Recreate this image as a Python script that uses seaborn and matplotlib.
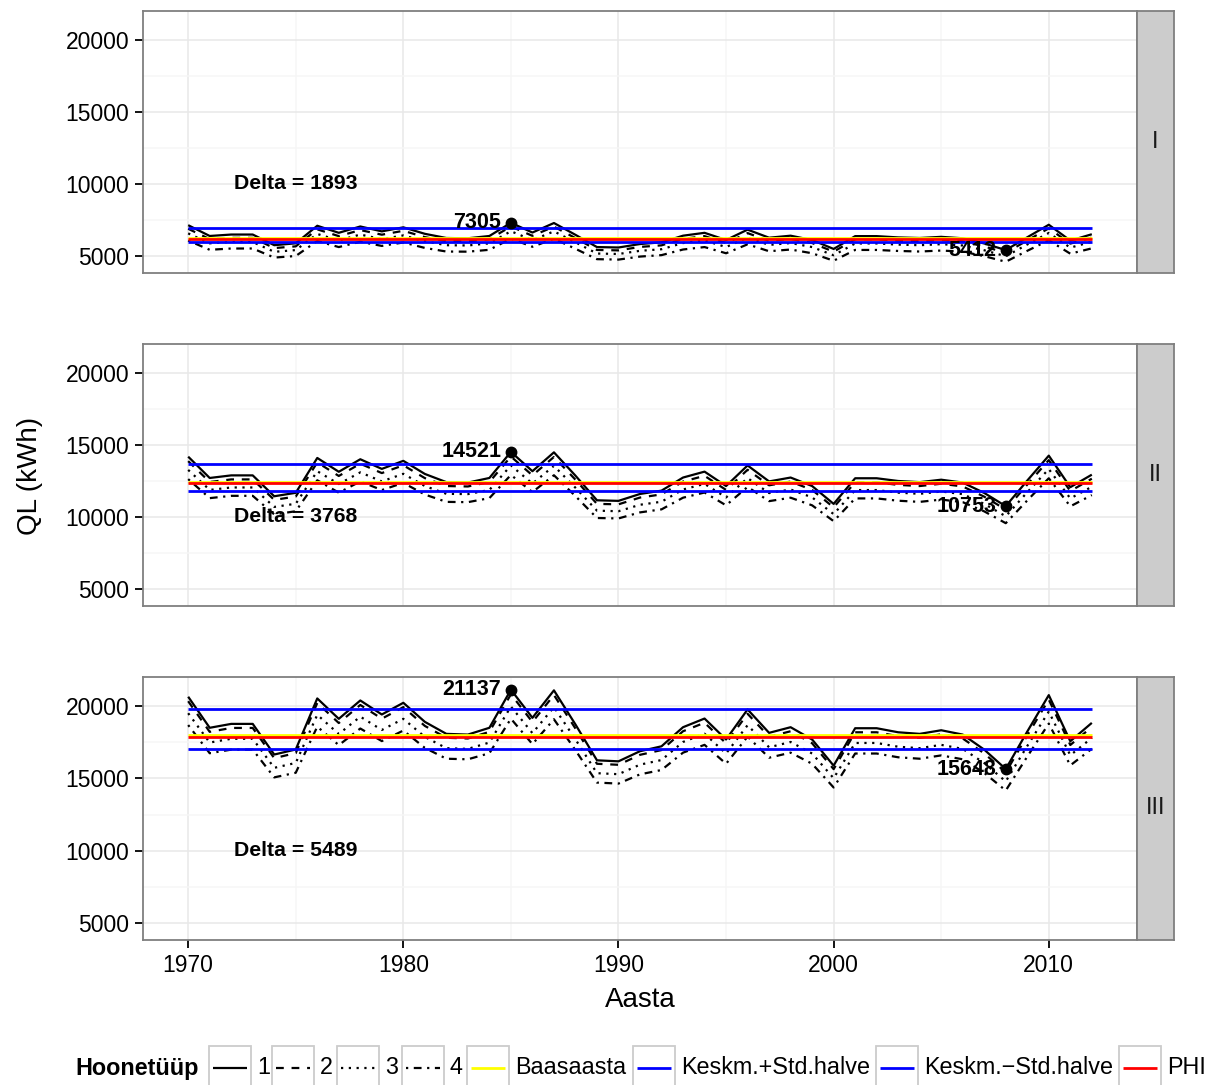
import numpy as np
import pandas as pd
import matplotlib
matplotlib.use("Agg")
import matplotlib.pyplot as plt
import seaborn as sns
from matplotlib.patches import Rectangle
from matplotlib.lines import Line2D

# ---------------- data ----------------
years = list(range(1970, 2013))
facets = ["I", "II", "III"]
types = ["1", "2", "3", "4"]

# facet I
ql_I_1 = [7140, 6390, 6490, 6490, 5750, 5880, 7100, 6610, 7050, 6710, 6990, 6540, 6250, 6230, 6390,
          7305, 6630, 7290, 6470, 5620, 5590, 5830, 5950, 6410, 6610, 6110, 6830, 6270, 6410, 6110,
          5490, 6380, 6380, 6290, 6250, 6330, 6230, 5870, 5412, 6300, 7170, 6070, 6510]
ql_I_2 = [6890, 6170, 6260, 6260, 5550, 5670, 6850, 6380, 6800, 6480, 6750, 6310, 6030, 6010, 6170,
          7050, 6400, 7040, 6240, 5420, 5390, 5630, 5740, 6190, 6380, 5900, 6590, 6050, 6190, 5900,
          5300, 6160, 6160, 6070, 6030, 6110, 6010, 5660, 5220, 6080, 6920, 5860, 6280]
ql_I_3 = [6570, 5880, 5970, 5970, 5290, 5410, 6530, 6080, 6490, 6170, 6430, 6020, 5750, 5730, 5880,
          6720, 6100, 6710, 5950, 5170, 5140, 5360, 5470, 5900, 6080, 5620, 6280, 5770, 5900, 5620,
          5050, 5870, 5870, 5790, 5750, 5820, 5730, 5400, 4980, 5800, 6600, 5580, 5990]
ql_I_4 = [6070, 5430, 5520, 5520, 4890, 5000, 6040, 5620, 5990, 5700, 5940, 5560, 5310, 5300, 5430,
          6210, 5640, 6200, 5500, 4780, 4750, 4960, 5060, 5450, 5620, 5190, 5810, 5330, 5450, 5190,
          4670, 5420, 5420, 5350, 5310, 5380, 5300, 4990, 4600, 5360, 6090, 5160, 5530]

# facet II
ql_II_1 = [14190, 12710, 12890, 12890, 11440, 11680, 14100, 13140, 14010, 13340, 13900, 12990, 12420, 12390, 12710,
           14521, 13180, 14490, 12870, 11160, 11120, 11600, 11830, 12740, 13150, 12150, 13580, 12470, 12740, 12150,
           10910, 12690, 12690, 12500, 12420, 12590, 12390, 11670, 10753, 12530, 14260, 12070, 12940]
ql_II_2 = [13880, 12430, 12610, 12610, 11190, 11420, 13790, 12850, 13700, 13050, 13590, 12700, 12150, 12120, 12430,
           14200, 12890, 14170, 12590, 10910, 10880, 11350, 11570, 12460, 12860, 11880, 13280, 12200, 12460, 11880,
           10670, 12410, 12410, 12230, 12150, 12310, 12120, 11410, 10520, 12250, 13950, 11800, 12660]
ql_II_3 = [13270, 11880, 12050, 12050, 10700, 10920, 13180, 12290, 13100, 12470, 13000, 12150, 11610, 11590, 11880,
           13580, 12320, 13550, 12030, 10440, 10400, 10850, 11060, 11910, 12300, 11360, 12700, 11660, 11910, 11360,
           10200, 11870, 11870, 11690, 11610, 11770, 11590, 10910, 10050, 11720, 13330, 11290, 12100]
ql_II_4 = [12630, 11310, 11470, 11470, 10180, 10400, 12550, 11690, 12470, 11870, 12370, 11560, 11050, 11030, 11310,
           12920, 11730, 12900, 11450, 9930, 9900, 10320, 10530, 11340, 11700, 10810, 12090, 11100, 11340, 10810,
           9710, 11290, 11290, 11130, 11050, 11210, 11030, 10390, 9570, 11150, 12690, 10740, 11520]

# facet III
ql_III_1 = [20650, 18500, 18770, 18770, 16650, 17000, 20530, 19120, 20390, 19420, 20230, 18910, 18080, 18030, 18500,
            21137, 19190, 21090, 18730, 16250, 16180, 16880, 17220, 18540, 19140, 17690, 19770, 18150, 18540, 17690,
            15880, 18470, 18470, 18190, 18080, 18330, 18030, 16990, 15648, 18240, 20760, 17570, 18840]
ql_III_2 = [20340, 18220, 18490, 18490, 16400, 16750, 20220, 18830, 20080, 19130, 19930, 18630, 17810, 17760, 18220,
            20820, 18900, 20770, 18450, 16010, 15940, 16630, 16960, 18260, 18850, 17430, 19470, 17880, 18260, 17430,
            15640, 18190, 18190, 17920, 17810, 18050, 17760, 16730, 15410, 17970, 20450, 17310, 18560]
ql_III_3 = [19510, 17480, 17740, 17740, 15730, 16070, 19400, 18070, 19270, 18350, 19120, 17870, 17090, 17040, 17480,
            19970, 18130, 19930, 17700, 15360, 15290, 15950, 16270, 17520, 18090, 16720, 18680, 17150, 17520, 16720,
            15010, 17450, 17450, 17190, 17090, 17320, 17040, 16060, 14790, 17240, 19620, 16600, 17800]
ql_III_4 = [18690, 16740, 16990, 16990, 15070, 15390, 18580, 17300, 18450, 17580, 18310, 17110, 16360, 16320, 16740,
            19130, 17370, 19090, 16950, 14710, 14640, 15280, 15580, 16780, 17320, 16010, 17890, 16430, 16780, 16010,
            14370, 16720, 16720, 16460, 16360, 16590, 16320, 15380, 14160, 16510, 18790, 15900, 17050]

# reference lines per facet (I, II, III)
baasaasta = [6250, 12450, 18030]
keskm_plus = [6920, 13680, 19810]
keskm_minus = [5970, 11800, 17060]
phi = [6160, 12340, 17870]

legend_labels = ["1", "2", "3", "4", "Baasaasta", "Keskm.+Std.halve", "Keskm.\u2212Std.halve", "PHI"]

series = {
    "I": [ql_I_1, ql_I_2, ql_I_3, ql_I_4],
    "II": [ql_II_1, ql_II_2, ql_II_3, ql_II_4],
    "III": [ql_III_1, ql_III_2, ql_III_3, ql_III_4],
}
rows = []
for f in facets:
    for t, vals in zip(types, series[f]):
        for y, v in zip(years, vals):
            rows.append((f, t, y, v))
df = pd.DataFrame(rows, columns=["Facet", "Hoonetüüp", "Aasta", "QL"])

# ---------------- style ----------------
sns.set_theme(style="white")
plt.rcParams["font.family"] = ["Liberation Sans", "DejaVu Sans"]
plt.rcParams["lines.solid_capstyle"] = "butt"
plt.rcParams["lines.dash_capstyle"] = "butt"

W, H = 1208, 1085
fig = plt.figure(figsize=(W / 100, H / 100), dpi=100)
fig.patch.set_facecolor("white")


def rect(x0, y0, x1, y1):
    return [x0 / W, 1 - y1 / H, (x1 - x0) / W, (y1 - y0) / H]


panel_y = [(11, 273), (344, 606), (677, 940)]
PX0, PX1 = 143, 1137
SX1 = 1174

LW = 1.6
REF_LW = 2.0
dash_map = {"1": "", "2": (3.5, 3.5), "3": (1, 2.5), "4": (1, 2.5, 3.5, 2.5)}
border = "#7F7F7F"

for i, f in enumerate(facets):
    y0, y1 = panel_y[i]
    ax = fig.add_axes(rect(PX0, y0, PX1, y1))
    ax.set_facecolor("white")
    sub = df[df["Facet"] == f]
    sns.lineplot(data=sub, x="Aasta", y="QL", style="Hoonetüüp", style_order=types,
                 dashes=dash_map, color="black", linewidth=LW, estimator=None,
                 legend=False, ax=ax, zorder=3)
    xmin, xmax = years[0], years[-1]
    ax.hlines(baasaasta[i], xmin, xmax, colors="#FFFF00", linewidth=REF_LW, zorder=4)
    ax.hlines(keskm_plus[i], xmin, xmax, colors="#0000FF", linewidth=REF_LW, zorder=4)
    ax.hlines(keskm_minus[i], xmin, xmax, colors="#0000FF", linewidth=REF_LW, zorder=4)
    ax.hlines(phi[i], xmin, xmax, colors="#FF0000", linewidth=REF_LW, zorder=4)

    s1 = np.array(series[f][0])
    imax, imin = int(np.argmax(s1)), int(np.argmin(s1))
    vmax, vmin = int(s1[imax]), int(s1[imin])
    ax.plot([years[imax], years[imin]], [vmax, vmin], "o", color="black", ms=7.5, zorder=6)
    for yi, v in ((imax, vmax), (imin, vmin)):
        ax.annotate(str(v), (years[yi], v), xytext=(-7, 0), textcoords="offset points",
                    ha="right", va="center", fontsize=15.5, fontweight="bold", color="black", zorder=7)
    ax.text(1975, 10000, f"Delta = {vmax - vmin}", ha="center", va="center",
            fontsize=15.3, fontweight="bold", color="black", zorder=7)

    ax.set_xlim(1967.9, 2014.1)
    ax.set_ylim(3819, 22014)
    ax.set_xticks([1970, 1980, 1990, 2000, 2010])
    ax.set_xticks([1975, 1985, 1995, 2005], minor=True)
    ax.set_yticks([5000, 10000, 15000, 20000])
    ax.set_yticks([7500, 12500, 17500], minor=True)
    ax.grid(True, which="major", color="#E8E8E8", linewidth=1.1, zorder=0)
    ax.grid(True, which="minor", color="#F6F6F6", linewidth=1.1, zorder=0)
    ax.set_axisbelow(True)
    for sp in ax.spines.values():
        sp.set_color(border)
        sp.set_linewidth(1.3)
        sp.set_visible(True)
    ax.tick_params(axis="y", which="major", left=True, length=6, width=1.3, color="black",
                   labelsize=16.5, labelcolor="black", pad=4)
    ax.tick_params(which="minor", length=0)
    if i == 2:
        ax.tick_params(axis="x", which="major", bottom=True, length=6, width=1.3, color="black",
                       labelsize=16.5, labelcolor="black", pad=4)
    else:
        ax.tick_params(axis="x", which="major", bottom=False, labelbottom=False)
    ax.set_xlabel("")
    ax.set_ylabel("")

    sax = fig.add_axes(rect(PX1, y0, SX1, y1))
    sax.set_facecolor("#CCCCCC")
    sax.set_xticks([])
    sax.set_yticks([])
    for sp in sax.spines.values():
        sp.set_color(border)
        sp.set_linewidth(1.3)
        sp.set_visible(True)
    sax.text(0.5, 0.5, f, ha="center", va="center", fontsize=17, color="#1A1A1A",
             transform=sax.transAxes)

fig.text(30 / W, 1 - 476 / H, "QL (kWh)", rotation=90, ha="center", va="center",
         fontsize=20, color="black")
fig.text(640 / W, 1 - 1000 / H, "Aasta", ha="center", va="center", fontsize=20, color="black")

# ---------------- legend (manual, ggplot-like keys) ----------------
ly = 1068
fig.text(75 / W, 1 - ly / H, "Hoonetüüp", ha="left", va="center", fontsize=16.8,
         fontweight="bold", color="black")
box_x = [209, 272, 337, 402, 467, 633, 876, 1119]
key_col = ["black"] * 4 + ["#FFFF00", "#0000FF", "#0000FF", "#FF0000"]
key_dash = [dash_map[t] for t in types] + [""] * 4
BW = 42
for x, lab, col, dsh in zip(box_x, legend_labels, key_col, key_dash):
    box = Rectangle((x / W, 1 - (ly + 22) / H), BW / W, 44 / H, transform=fig.transFigure,
                    facecolor="white", edgecolor="#CCCCCC", linewidth=1.3)
    fig.patches.append(box)
    ln = Line2D([(x + 4) / W, (x + BW - 4) / W], [1 - ly / H, 1 - ly / H],
                transform=fig.transFigure, color=col,
                linewidth=LW if col == "black" else REF_LW)
    if dsh:
        ln.set_dashes(dsh)
    fig.lines.append(ln)
    fig.text((x + BW + 6) / W, 1 - ly / H, lab, ha="left", va="center", fontsize=16.8,
             color="black")

fig.savefig("out.png", dpi=100, facecolor="white")
